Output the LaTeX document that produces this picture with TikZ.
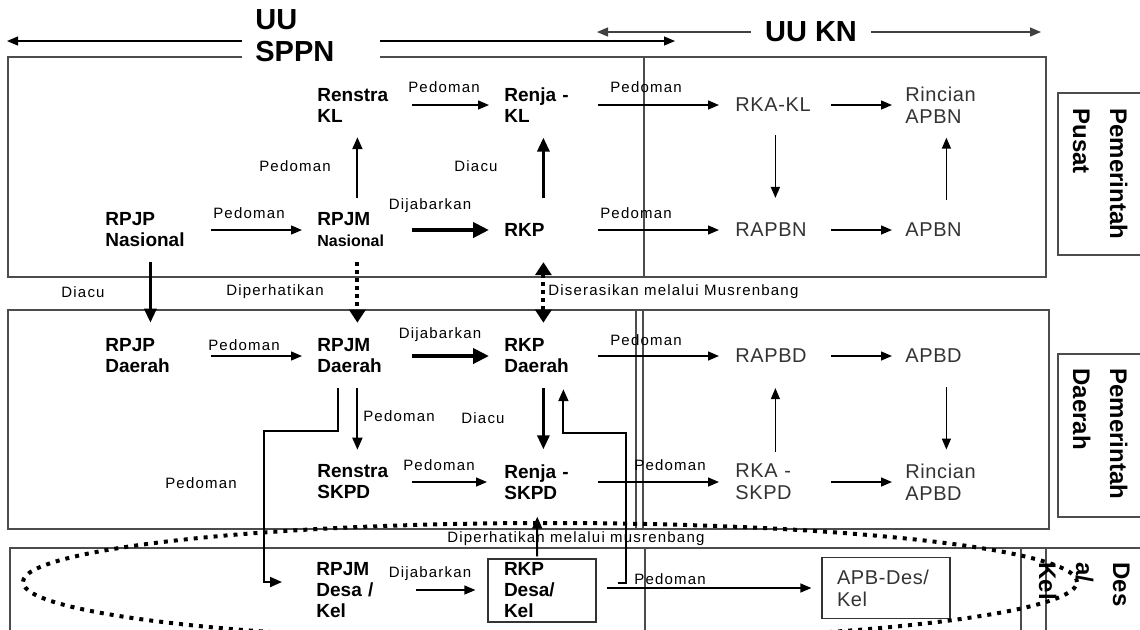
\documentclass[tikz,border=0pt]{standalone}
\usepackage{fontspec}
\setmainfont{Liberation Sans}
\newfontfamily\lblfont[LetterSpace=8]{Liberation Sans}
\newfontfamily\knfont[LetterSpace=3]{Liberation Sans}
\usetikzlibrary{arrows.meta}

\begin{document}
\begin{tikzpicture}[x=0.5pt, y=-0.5pt,
    main/.style = {anchor=west, inner sep=0pt, align=left, font=\fontsize{9.5}{10.5}\selectfont\bfseries},
    kn/.style = {anchor=west, inner sep=0pt, align=left, text=black!80, font=\knfont\fontsize{10}{11}\selectfont},
    lbl/.style = {inner sep=0pt, font=\lblfont\fontsize{7.5}{9}\selectfont},
    tag/.style = {rotate=-90, anchor=north west, inner sep=0pt, align=left, font=\fontsize{12}{18.5}\selectfont\bfseries},
    law/.style = {fill=white, align=left, font=\fontsize{14.5}{16}\selectfont\bfseries},
    c1/.style = {text width=52.5pt}, c2/.style = {text width=47pt},
    c3/.style = {text width=46.5pt}, c4/.style = {text width=47.5pt}, c5/.style = {text width=41pt},
    panel/.style = {draw=black!70, line width=0.6pt},
    ar/.style = {>={Triangle[length=5.5pt,width=4.5pt]}, ->, line width=0.7pt},
    arm/.style = {>={Triangle[length=6pt,width=5pt]}, ->, line width=1pt},
    arh/.style = {>={Triangle[length=7pt,width=6pt]}, ->, line width=1.6pt},
    arb/.style = {>={Triangle[length=8pt,width=7.5pt]}, ->, line width=2.4pt},
    ard/.style = {>={Triangle[length=6.5pt,width=8pt]}, ->, line width=2pt, dash pattern=on 2pt off 2pt},
    ]
    \useasboundingbox (0,0) rectangle (1140,629);
    \clip (0,0) rectangle (1140,629);

    % frames
    \draw[panel] (8,57) rectangle (1046,277);
    \draw[panel] (644,57) -- (644,277);
    \draw[panel] (8,310) rectangle (1049,529);
    \draw[panel] (636,310) -- (636,529);
    \draw[panel] (643,310) -- (643,529);
    \draw[panel] (10,640) |- (1150,548);
    \draw[panel] (645,548) -- (645,640);
    \draw[panel] (1021,548) -- (1021,640);
    \draw[panel] (1046,548) -- (1046,640);
    \draw[panel] (1150,93) -| (1058,255) -- (1150,255);
    \draw[panel] (1150,354) -| (1058,517) -- (1150,517);

    % laws
    \coordinate (sppnL) at (7,41);
    \coordinate (sppnR) at (675,41);
    \coordinate (knL) at (597,32);
    \coordinate (knR) at (1041,32);
    \draw[ar, <->, line width=0.6pt] (sppnL) -- (sppnR);
    \draw[ar, <->, line width=0.6pt, black!75] (knL) -- (knR);
    \node[law, anchor=west, inner xsep=6.5pt, text width=56pt, minimum height=36pt] (sppn) at (242,36) {UU\\SPPN};
    \node[law, inner xsep=7pt] (kn) at (811,32) {UU KN};

    % pusat
    \node[main, c2] (rsKL) at (317,105) {Renstra\\KL};
    \node[main, c3] (rjKL) at (504,105) {Renja -\\KL};
    \node[kn, c4] (rkaKL) at (735,105) {RKA-KL};
    \node[kn, c5] (rcAPBN) at (905,105) {Rincian\\APBN};
    \node[main, c1] (rpjpN) at (105,230) {RPJP\\Nasional};
    \node[main, c2] (rpjmN) at (317,230) {RPJM\\{\fontsize{8}{10.5}\selectfont Nasional}};
    \node[main, c3] (rkp) at (504,230) {RKP};
    \node[kn, c4] (rapbn) at (735,230) {RAPBN};
    \node[kn, c5] (apbn) at (905,230) {APBN};

    % daerah
    \node[main, c1] (rpjpD) at (105,356) {RPJP\\Daerah};
    \node[main, c2] (rpjmD) at (317,356) {RPJM\\Daerah};
    \node[main, c3] (rkpD) at (504,356) {RKP\\Daerah};
    \node[kn, c4] (rapbd) at (735,356) {RAPBD};
    \node[kn, c5] (apbd) at (905,356) {APBD};
    \node[main, c2] (rsSKPD) at (317,482) {Renstra\\SKPD};
    \node[main, c3] (rjSKPD) at (504,482) {Renja -\\SKPD};
    \node[kn, c4] (rkaSKPD) at (735,482) {RKA -\\SKPD};
    \node[kn, c5] (rcAPBD) at (905,482) {Rincian\\APBD};

    % desa
    \node[main, c2] (rpjmDes) at (316,590) {RPJM\\Desa /\\Kel};
    \node[main, draw=black!80, line width=0.6pt, anchor=center, text width=38pt, inner xsep=8pt, inner ysep=0pt, minimum height=31.5pt] (rkpDes) at (542,590.5) {RKP\\Desa/\\Kel};
    \node[kn, draw=black!80, line width=0.6pt, anchor=center, text width=49pt, inner xsep=7.5pt, inner ysep=0pt, minimum height=30.5pt] (apbDes) at (886,588) {APB-Des/\\Kel};

    % side tags
    \node[tag] (tPusat) at (1128,108) {Pemerintah\\Pusat};
    \node[tag] (tDaerah) at (1128,368) {Pemerintah\\Daerah};
    \node[tag] (tDesa) at (1130,562) {Des\\a/\\Kel};

    % labels
    \node[lbl] (pd1) at (444,87) {Pedoman};
    \node[lbl] (pd2) at (646,87) {Pedoman};
    \node[lbl] (pd3) at (295,166) {Pedoman};
    \node[lbl] (dc1) at (476,166) {Diacu};
    \node[lbl] (pd4) at (249,213) {Pedoman};
    \node[lbl] (dj1) at (430,206) {Dijabarkan};
    \node[lbl] (pd5) at (636,213) {Pedoman};
    \node[lbl] (dc2) at (83,292) {Diacu};
    \node[lbl] (dp1) at (275,292) {Diperhatikan};
    \node[lbl, anchor=west] (ds1) at (548,292) {Diserasikan melalui Musrenbang};
    \node[lbl] (pd6) at (244,345) {Pedoman};
    \node[lbl] (dj2) at (440,335) {Dijabarkan};
    \node[lbl] (pd7) at (646,340) {Pedoman};
    \node[lbl] (pd8) at (399,416) {Pedoman};
    \node[lbl] (dc3) at (483,418) {Diacu};
    \node[lbl] (pd9) at (201,483) {Pedoman};
    \node[lbl] (pd10) at (439,465) {Pedoman};
    \node[lbl, anchor=west] (pd11) at (634,465) {Pedoman};
    \node[lbl, anchor=west] (dp2) at (447,539) {Diperhatikan melalui musrenbang};
    \node[lbl] (dj3) at (430,574) {Dijabarkan};
    \node[lbl, anchor=west] (pd12) at (634,579) {Pedoman};

    % rows
    \draw[ar, shorten >=7.5pt] (rsKL.east) -- (rjKL.west);
    \draw[ar, shorten >=8pt] (rjKL.east) -- (rkaKL.west);
    \draw[ar, shorten >=6.5pt] (rkaKL.east) -- (rcAPBN.west);
    \draw[ar, shorten >=7.5pt] (rpjpN.east) -- (rpjmN.west);
    \draw[arb, shorten >=7.5pt] (rpjmN.east) -- (rkp.west);
    \draw[ar, shorten >=8pt] (rkp.east) -- (rapbn.west);
    \draw[ar, shorten >=6.5pt] (rapbn.east) -- (apbn.west);
    \draw[ar, shorten >=7.5pt] (rpjpD.east) -- (rpjmD.west);
    \draw[arb, shorten >=7.5pt] (rpjmD.east) -- (rkpD.west);
    \draw[ar, shorten >=8pt] (rkpD.east) -- (rapbd.west);
    \draw[ar, shorten >=6.5pt] (rapbd.east) -- (apbd.west);
    \draw[ar, shorten >=8.5pt] (rsSKPD.east) -- (rjSKPD.west);
    \draw[ar, shorten >=8pt] (rjSKPD.east) -- (rkaSKPD.west);
    \draw[ar, shorten >=6.5pt] (rkaSKPD.east) -- (rcAPBD.west);
    \draw[ar, shorten <=2.5pt, shorten >=6pt] (rpjmDes.east) -- (rkpDes.west |- rpjmDes.east);
    \draw[ar, shorten <=5pt, shorten >=5pt] (rkpDes.east |- apbDes.west) -- (apbDes.west);

    % columns
    \draw[arm, shorten <=7.4pt, shorten >=7.4pt] ([xshift=-3.5pt]rpjmN.north) -- ([xshift=-3.5pt]rsKL.south);
    \draw[arh, shorten <=12.6pt, shorten >=7.4pt] ([xshift=-3.75pt]rkp.north) -- ([xshift=-3.75pt]rjKL.south);
    \draw[ar, shorten <=11.4pt, shorten >=12.4pt] ([xshift=-3.75pt]rkaKL.south) -- ([xshift=-3.75pt]rapbn.north);
    \draw[ar, shorten <=11.4pt, shorten >=7pt] (apbn.north) -- (rcAPBN.south);
    \draw[arh, shorten <=7.4pt, shorten >=7.9pt] ([xshift=-3.75pt]rpjpN.south) -- ([xshift=-3.75pt]rpjpD.north);
    \draw[ard, shorten <=7.4pt, shorten >=7.9pt] ([xshift=-3.5pt]rpjmN.south) -- ([xshift=-3.5pt]rpjmD.north);
    \draw[ard, <->, shorten <=12.6pt, shorten >=7.9pt] ([xshift=-3.75pt]rkp.south) -- ([xshift=-3.75pt]rkpD.north);
    \draw[arm, shorten <=7.4pt, shorten >=7.4pt] ([xshift=-3.5pt]rpjmD.south) -- ([xshift=-3.5pt]rsSKPD.north);
    \draw[arh, shorten <=7.4pt, shorten >=7.4pt] ([xshift=-3.75pt]rkpD.south) -- ([xshift=-3.75pt]rjSKPD.north);
    \draw[ar, shorten <=5.9pt, shorten >=12.4pt] ([xshift=-3.75pt]rkaSKPD.north) -- ([xshift=-3.75pt]rapbd.south);
    \draw[ar, shorten <=11.9pt, shorten >=6.9pt] (apbd.south) -- (rcAPBD.north);
    \draw[arm, shorten <=1pt, shorten >=8.4pt] ([xshift=-2.5pt]rkpDes.north) -- ([xshift=-6.75pt]rjSKPD.south);

    % elbows
    \draw[arm] ([xshift=10.5pt]rpjmD.south west) ++(0,14.7) -- ++(0,43) -- ++(-74,0) |- ([xshift=-17pt,yshift=4pt]rpjmDes.west);
    \draw[arm] ([xshift=10.5pt,yshift=4pt]rkpDes.east) -- ++(8,0) -- ++(0,-150) -| ([xshift=6.25pt,yshift=-7.85pt]rkpD.south);

    % musrenbang ring
    \draw[line width=2pt, dash pattern=on 2pt off 3pt] (550,582) ellipse [x radius=263.5pt, y radius=29.5pt];
\end{tikzpicture}
\end{document}
